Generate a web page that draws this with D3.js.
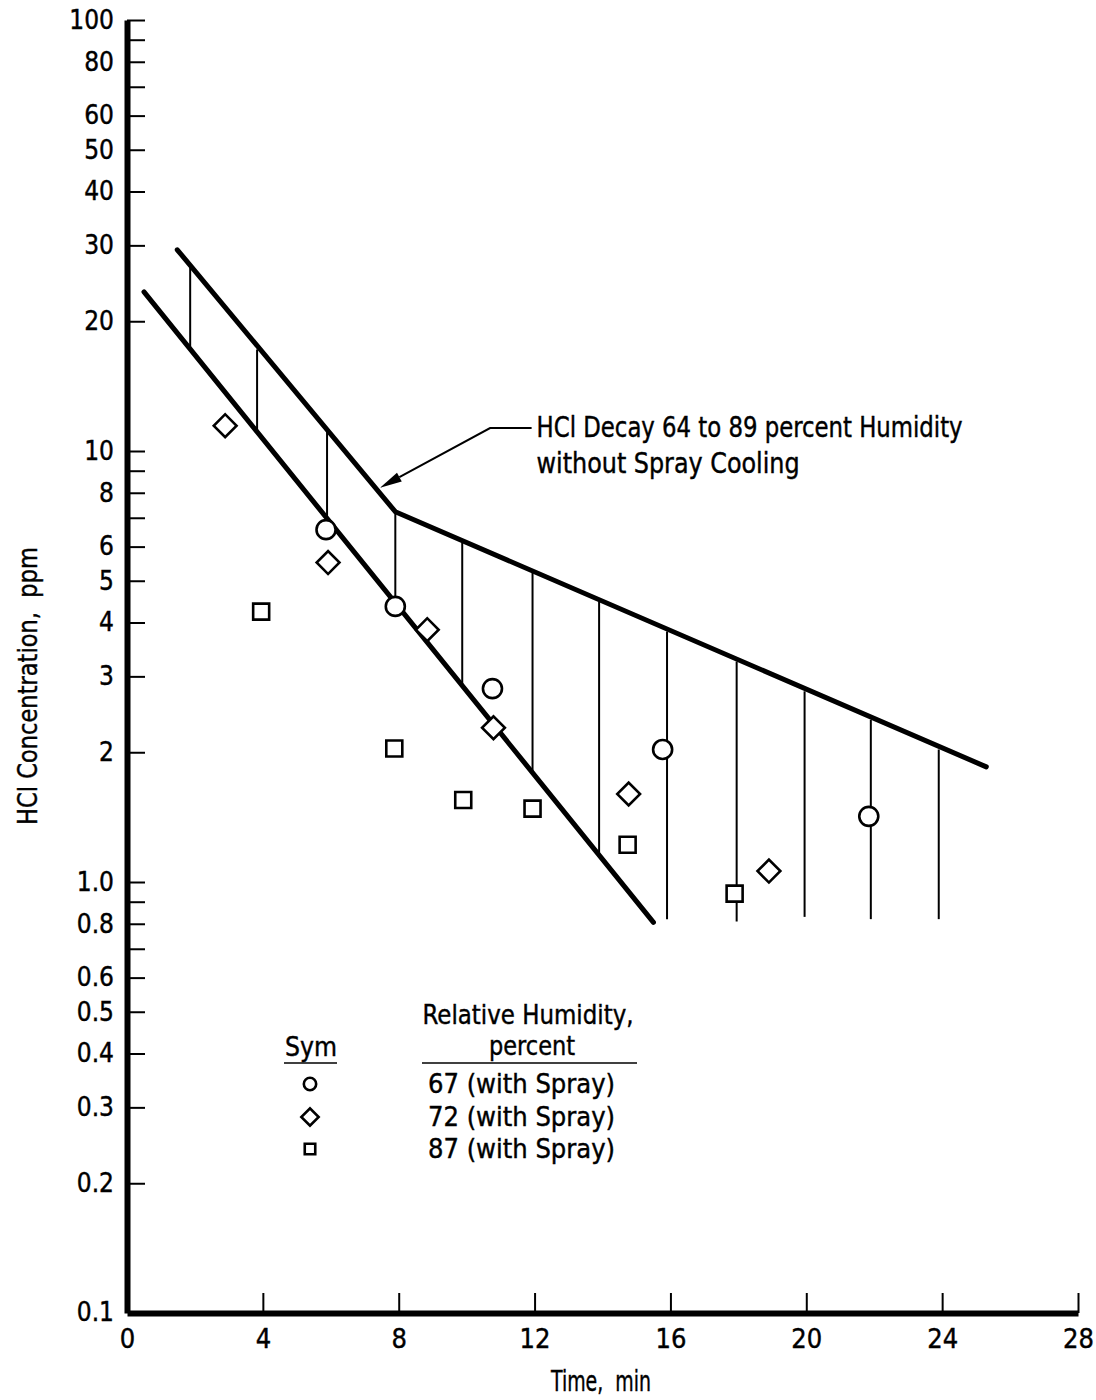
<!DOCTYPE html>
<html>
<head>
<meta charset="utf-8">
<script src="https://cdn.jsdelivr.net/npm/d3@7"></script>
<style>
  body { margin: 0; background: #fff; }
  svg text { font-family: "Liberation Sans Narrow", "DejaVu Sans Condensed", "Roboto Condensed", "Liberation Sans", sans-serif; fill: #000; stroke: #000; stroke-width: 0.4px; }
  svg text.pre { white-space: pre; }
</style>
</head>
<body>
<div id="chart"></div>
<script>
const width = 1096;
const height = 1400;
const margin = {top: 20, right: 18, bottom: 87, left: 127};

// axis ticks
const xTicks = [0, 4, 8, 12, 16, 20, 24, 28];
const yTicks = [100, 90, 80, 70, 60, 50, 40, 30, 20, 10, 9, 8, 7, 6, 5, 4, 3, 2, 1, 0.9, 0.8, 0.7, 0.6, 0.5, 0.4, 0.3, 0.2];
const yLabelled = [100, 80, 60, 50, 40, 30, 20, 10, 8, 6, 5, 4, 3, 2, 1, 0.8, 0.6, 0.5, 0.4, 0.3, 0.2, 0.1];
const yLabelText = ["100", "80", "60", "50", "40", "30", "20", "10", "8", "6", "5", "4", "3", "2", "1.0", "0.8", "0.6", "0.5", "0.4", "0.3", "0.2", "0.1"];

// band: HCl decay without spray cooling
const upperT = [1.48, 7.9, 25.3];
const upperV = [29.3, 7.23, 1.85];
const lowerT = [0.5, 15.5];
const lowerV = [23.4, 0.806];
const hatchT = [1.86, 3.83, 5.89, 7.9, 9.87, 11.94, 13.9, 15.9, 17.95, 19.95, 21.9, 23.9];
const hatchTop = [27.0, 17.2, 11.3, 7.23, 6.13, 5.25, 4.47, 3.81, 3.25, 2.77, 2.38, 2.03];
const hatchBottom = [17.45, 11.2, 7.04, 4.57, 2.83, 1.80, 1.17, 0.82, 0.81, 0.83, 0.82, 0.82];

// measured points (with spray)
const rh67T = [5.86, 7.9, 10.76, 15.77, 21.84];
const rh67V = [6.57, 4.36, 2.81, 2.03, 1.42];
const rh72T = [2.89, 5.92, 8.84, 10.79, 14.77, 18.9];
const rh72V = [11.45, 5.51, 3.85, 2.28, 1.60, 1.06];
const rh87T = [3.95, 7.87, 9.9, 11.94, 14.74, 17.89];
const rh87V = [4.24, 2.04, 1.55, 1.48, 1.22, 0.94];

// annotation leader: tip, elbow, text anchor
const noteT = [7.45, 10.69, 12.06];
const noteV = [8.22, 11.3, 11.3];
const noteLines = ["HCl Decay 64 to 89 percent Humidity", "without Spray Cooling"];
const noteWidths = [426, 263];

const legendLabels = ["67 (with Spray)", "72 (with Spray)", "87 (with Spray)"];

const svg = d3.select("#chart").append("svg")
  .attr("width", width)
  .attr("height", height);

svg.append("rect").attr("width", width).attr("height", height).attr("fill", "#fff");

const x = d3.scaleLinear().domain([0, 28]).range([margin.left, width - margin.right]);
const y = d3.scaleLog().domain([0.1, 100]).range([height - margin.bottom, margin.top]);

// y axis (ticks inside, labels outside)
const yAxis = d3.axisLeft(y)
  .tickValues(yTicks)
  .tickSize(-18)
  .tickSizeOuter(0)
  .tickPadding(13)
  .tickFormat(d => {
    const i = yLabelled.indexOf(d);
    return i >= 0 ? yLabelText[i] : "";
  });

const gy = svg.append("g")
  .attr("transform", "translate(" + margin.left + ",0)")
  .call(yAxis);
gy.select(".domain").attr("stroke", "#000").attr("stroke-width", 6);
gy.selectAll(".tick line").attr("stroke", "#000").attr("stroke-width", 2);
gy.selectAll(".tick text").attr("font-size", 26).style("font-family", null);

// 0.1 label sits on the x axis
svg.append("text")
  .attr("x", margin.left - 13)
  .attr("y", y(0.1))
  .attr("dy", "0.32em")
  .attr("text-anchor", "end")
  .attr("font-size", 26)
  .text(yLabelText[yLabelText.length - 1]);

const xAxis = d3.axisBottom(x)
  .tickValues(xTicks)
  .tickSize(-20)
  .tickSizeOuter(0)
  .tickPadding(16);

const gx = svg.append("g")
  .attr("transform", "translate(0," + y(0.1) + ")")
  .call(xAxis);
gx.select(".domain").attr("stroke", "#000").attr("stroke-width", 6);
gx.selectAll(".tick line").attr("stroke", "#000").attr("stroke-width", 2);
gx.selectAll(".tick text").attr("font-size", 27).style("font-family", null);

// axis titles
svg.append("text")
  .attr("class", "pre")
  .attr("x", 601)
  .attr("y", height - 9)
  .attr("text-anchor", "middle")
  .attr("font-size", 28)
  .attr("textLength", 100)
  .attr("lengthAdjust", "spacingAndGlyphs")
  .text("Time,  min");

svg.append("text")
  .attr("class", "pre")
  .attr("transform", "translate(37,686) rotate(-90)")
  .attr("text-anchor", "middle")
  .attr("font-size", 27)
  .attr("textLength", 278)
  .attr("lengthAdjust", "spacingAndGlyphs")
  .text("HCl Concentration,  ppm");

// hatching
svg.append("g")
  .selectAll("line")
  .data(hatchT)
  .join("line")
    .attr("x1", d => x(d))
    .attr("x2", d => x(d))
    .attr("y1", (d, i) => y(hatchTop[i]))
    .attr("y2", (d, i) => y(hatchBottom[i]))
    .attr("stroke", "#000")
    .attr("stroke-width", 2);

const line = d3.line()
  .x(d => x(d[0]))
  .y(d => y(d[1]));

svg.append("path")
  .attr("d", line(upperT.map((t, i) => [t, upperV[i]])))
  .attr("fill", "none")
  .attr("stroke", "#000")
  .attr("stroke-width", 5)
  .attr("stroke-linecap", "round")
  .attr("stroke-linejoin", "round");

svg.append("path")
  .attr("d", line(lowerT.map((t, i) => [t, lowerV[i]])))
  .attr("fill", "none")
  .attr("stroke", "#000")
  .attr("stroke-width", 5)
  .attr("stroke-linecap", "round");

// annotation
const tipX = x(noteT[0]), tipY = y(noteV[0]);
const elbX = x(noteT[1]), elbY = y(noteV[1]);
const ang = Math.atan2(tipY - elbY, tipX - elbX);
const headLen = 22, headW = 5;
const baseX = tipX - headLen * Math.cos(ang), baseY = tipY - headLen * Math.sin(ang);

svg.append("path")
  .attr("d", d3.line()([[x(noteT[2]) - 5, elbY], [elbX, elbY], [baseX, baseY]]))
  .attr("fill", "none")
  .attr("stroke", "#000")
  .attr("stroke-width", 2);

svg.append("path")
  .attr("d", d3.line()([
    [tipX, tipY],
    [baseX + headW * Math.sin(ang), baseY - headW * Math.cos(ang)],
    [baseX - headW * Math.sin(ang), baseY + headW * Math.cos(ang)]
  ]) + "Z")
  .attr("fill", "#000");

svg.append("g")
  .selectAll("text")
  .data(noteLines)
  .join("text")
    .attr("x", x(noteT[2]))
    .attr("y", (d, i) => elbY + 9 + i * 36)
    .attr("font-size", 28)
    .attr("textLength", (d, i) => noteWidths[i])
    .attr("lengthAdjust", "spacingAndGlyphs")
    .text(d => d);

// markers
const circleSym = d3.symbol(d3.symbolCircle, 285);
const diamondSym = d3.symbol(d3.symbolSquare, 260);
const squareSym = d3.symbol(d3.symbolSquare, 256);

function drawMarkers(ts, vs, sym, rot) {
  svg.append("g")
    .selectAll("path")
    .data(ts)
    .join("path")
      .attr("transform", (d, i) => "translate(" + x(d) + "," + y(vs[i]) + ") rotate(" + rot + ")")
      .attr("d", sym)
      .attr("fill", "#fff")
      .attr("stroke", "#000")
      .attr("stroke-width", 2.6);
}
drawMarkers(rh67T, rh67V, circleSym, 0);
drawMarkers(rh72T, rh72V, diamondSym, 45);
drawMarkers(rh87T, rh87V, squareSym, 0);

// legend
const leg = svg.append("g");
leg.append("text").attr("x", 528).attr("y", 1024).attr("text-anchor", "middle").attr("font-size", 27)
  .attr("textLength", 211).attr("lengthAdjust", "spacingAndGlyphs").text("Relative Humidity,");
leg.append("text").attr("x", 532).attr("y", 1055).attr("text-anchor", "middle").attr("font-size", 27)
  .attr("textLength", 86).attr("lengthAdjust", "spacingAndGlyphs").text("percent");
leg.append("line").attr("x1", 422).attr("x2", 637).attr("y1", 1063).attr("y2", 1063).attr("stroke", "#000").attr("stroke-width", 1.5);
leg.append("text").attr("x", 311).attr("y", 1056).attr("text-anchor", "middle").attr("font-size", 27)
  .attr("textLength", 52).attr("lengthAdjust", "spacingAndGlyphs").text("Sym");
leg.append("line").attr("x1", 284).attr("x2", 337).attr("y1", 1063).attr("y2", 1063).attr("stroke", "#000").attr("stroke-width", 1.5);

const legSyms = [d3.symbol(d3.symbolCircle, 120), d3.symbol(d3.symbolSquare, 150), d3.symbol(d3.symbolSquare, 110)];
const legRot = [0, 45, 0];
const rowY = [1084, 1117, 1149];
leg.selectAll("path")
  .data(legendLabels)
  .join("path")
    .attr("transform", (d, i) => "translate(310," + rowY[i] + ") rotate(" + legRot[i] + ")")
    .attr("d", (d, i) => legSyms[i]())
    .attr("fill", "#fff")
    .attr("stroke", "#000")
    .attr("stroke-width", 2.6);
leg.selectAll("text.row")
  .data(legendLabels)
  .join("text")
    .attr("class", "row")
    .attr("x", 428)
    .attr("y", (d, i) => rowY[i] + 9)
    .attr("font-size", 27)
    .attr("textLength", 187)
    .attr("lengthAdjust", "spacingAndGlyphs")
    .text(d => d);
</script>
</body>
</html>
